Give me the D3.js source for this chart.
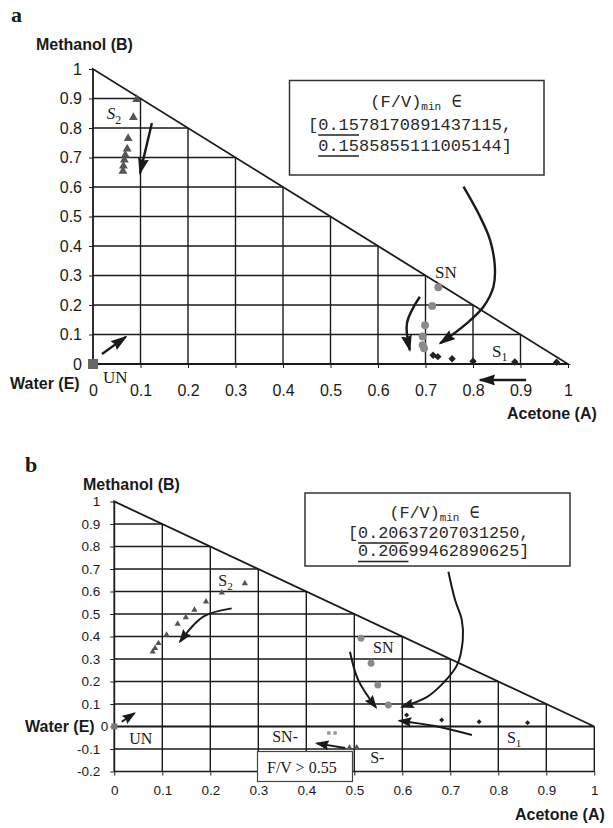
<!DOCTYPE html>
<html><head><meta charset="utf-8">
<script src="https://cdn.jsdelivr.net/npm/d3@7"></script>
<style>
body{margin:0;background:#fff}
svg{display:block}
</style></head><body>
<svg id="chart" width="613" height="828"></svg>
<script>
// ================= DATA =================
const xTicksA = [0,0.1,0.2,0.3,0.4,0.5,0.6,0.7,0.8,0.9,1];
const yTicksA = [0,0.1,0.2,0.3,0.4,0.5,0.6,0.7,0.8,0.9,1];
const xTicksB = [0,0.1,0.2,0.3,0.4,0.5,0.6,0.7,0.8,0.9,1];
const yTicksB = [-0.2,-0.1,0,0.1,0.2,0.3,0.4,0.5,0.6,0.7,0.8,0.9,1];

// panel a series  [acetone x, methanol y]
const s2A = [[0.092,0.897],[0.085,0.836],[0.074,0.765],[0.072,0.729],[0.068,0.708],[0.066,0.692],[0.064,0.671],[0.063,0.654]];
const snA = [[0.727,0.26],[0.714,0.197],[0.699,0.131],[0.694,0.093],[0.694,0.064],[0.697,0.053]];
const s1A = [[0.716,0.03],[0.726,0.025],[0.756,0.018],[0.80,0.009],[0.888,0.007],[0.976,0.006]];
const unA = [[0,0]];

// panel b series
const s2B = [[0.272,0.636],[0.224,0.595],[0.191,0.555],[0.167,0.518],[0.149,0.485],[0.132,0.456],[0.109,0.407],[0.092,0.37],[0.085,0.348],[0.08,0.332]];
const snB = [[0.514,0.392],[0.535,0.281],[0.549,0.184],[0.571,0.096]];
const s1B = [[0.609,0.051],[0.682,0.029],[0.76,0.021],[0.861,0.017]];
const unB = [[0,0]];
const snMinusB = [[0.447,-0.029],[0.46,-0.029]];
const sMinusB = [[0.49,-0.093],[0.505,-0.092]];

// annotation arrows (data coordinates)
const arrowsA = [
  [[0.124,0.817],[0.099,0.647]],
  [[0.019,0.034],[0.069,0.092]],
  [[0.688,0.228],[0.661,0.139],[0.667,0.047]],
  [[0.780,0.601],[0.815,0.499],[0.836,0.420],[0.846,0.330],[0.843,0.262],[0.822,0.194],[0.787,0.138],[0.731,0.070]],
  [[0.912,-0.054],[0.815,-0.054]]
];
const arrowsB = [
  [[0.2446,0.525],[0.1854,0.488],[0.137,0.377]],
  [[0.0154,0.0213],[0.0417,0.0587]],
  [[0.491,0.332],[0.508,0.207],[0.545,0.085]],
  [[0.696,0.688],[0.710,0.562],[0.724,0.473],[0.726,0.384],[0.714,0.273],[0.685,0.193],[0.651,0.131],[0.599,0.087]],
  [[0.745,-0.038],[0.668,0.002],[0.594,0.026]],
  [[0.481,-0.096],[0.422,-0.075]]
];

const boxLinesA = ["0.1578170891437115", "0.1585855111005144"];
const boxLinesB = ["0.20637207031250", "0.20699462890625"];

// ================= DRAW =================
const svg = d3.select("#chart");
const INK = "#1a1a1a";
const SANS = "'Liberation Sans', Arial, sans-serif";
const SERIF = "'Liberation Serif', 'Times New Roman', serif";
const MONO = "'Liberation Mono', 'DejaVu Sans Mono', monospace";

const defs = svg.append("defs");
function marker(id, w, h) {
  defs.append("marker").attr("id", id)
    .attr("viewBox", `0 0 ${w} ${h}`)
    .attr("markerWidth", w).attr("markerHeight", h)
    .attr("refX", w - 2).attr("refY", h / 2)
    .attr("markerUnits", "userSpaceOnUse")
    .attr("orient", "auto")
    .append("path").attr("d", `M0,0 L${w},${h/2} L0,${h} L2,${h/2} Z`).attr("fill", INK);
}
marker("arrA", 17, 11);
marker("arrB", 14, 10);

const fmt = d => String(+d.toFixed(1));

function panel(opt) {
  const x = d3.scaleLinear().domain([0, 1]).range(opt.xRange);
  const y = d3.scaleLinear().domain([opt.ymin, 1]).range(opt.yRange);
  const g = svg.append("g");
  const grid = [0.1,0.2,0.3,0.4,0.5,0.6,0.7,0.8,0.9];
  const gl = g.append("g").attr("stroke", INK).attr("stroke-width", opt.gridW).attr("fill", "none");
  grid.forEach(v => {
    gl.append("line").attr("x1", x(v)).attr("x2", x(v)).attr("y1", y(opt.ymin)).attr("y2", y(1 - v));
    gl.append("line").attr("x1", x(0)).attr("x2", x(1 - v)).attr("y1", y(v)).attr("y2", y(v));
  });
  if (opt.ymin < 0) {
    opt.yTicks.filter(v => v < 0).forEach(v => {
      gl.append("line").attr("x1", x(0)).attr("x2", x(1)).attr("y1", y(v)).attr("y2", y(v));
    });
    gl.append("line").attr("x1", x(1)).attr("x2", x(1)).attr("y1", y(opt.ymin)).attr("y2", y(0));
  }
  // frame
  gl.append("path").attr("stroke-width", opt.frameW)
    .attr("d", `M${x(0)},${y(opt.ymin)} L${x(0)},${y(1)} L${x(1)},${y(0)} L${x(0)},${y(0)}`);

  // axes
  const ya = g.append("g").attr("transform", `translate(${x(0)},0)`)
    .call(d3.axisLeft(y).tickValues(opt.yTicks).tickSize(opt.tickSize).tickPadding(opt.yPad).tickFormat(fmt));
  const xa = g.append("g").attr("transform", `translate(0,${y(opt.ymin)})`)
    .call(d3.axisBottom(x).tickValues(opt.xTicks).tickSize(opt.tickSize).tickPadding(opt.xPad).tickFormat(fmt));
  [ya, xa].forEach(a => {
    a.select(".domain").remove();
    a.selectAll("line").attr("stroke", INK);
    a.selectAll("text").attr("font-family", SANS).attr("font-size", opt.tickFont).attr("fill", INK);
  });
  if (opt.zeroShift) ya.selectAll(".tick").filter(d => d === 0).select("text").attr("x", -opt.tickSize - opt.yPad + opt.zeroShift);

  // axis titles
  const lab = (t, px, py) => g.append("text").attr("x", px).attr("y", py).text(t)
    .attr("font-family", SANS).attr("font-weight", "bold").attr("font-size", 16).attr("fill", INK);
  lab("Methanol (B)", opt.mLab[0], opt.mLab[1]);
  lab("Water (E)", opt.wLab[0], opt.wLab[1]);
  lab("Acetone (A)", opt.aLab[0], opt.aLab[1]);
  g.append("text").attr("x", opt.letter[0]).attr("y", opt.letter[1]).text(opt.letterText)
    .attr("font-family", SERIF).attr("font-weight", "bold").attr("font-size", 22).attr("fill", INK);

  // arrows
  const line = d3.line().x(d => x(d[0])).y(d => y(d[1])).curve(d3.curveCatmullRom.alpha(0.5));
  g.append("g").selectAll("path").data(opt.arrows).join("path")
    .attr("d", line).attr("fill", "none").attr("stroke", INK)
    .attr("stroke-width", opt.arrowW).attr("marker-end", `url(#${opt.marker})`);

  // series
  const sym = (data, type, size, fill, rot) => g.append("g").selectAll("path").data(data).join("path")
    .attr("d", d3.symbol(type, size))
    .attr("transform", d => `translate(${x(d[0])},${y(d[1])})${rot ? " rotate(45)" : ""}`)
    .attr("fill", fill);
  opt.series.forEach(s => sym(s.data, s.type, s.size, s.fill, s.rot));

  // text labels
  opt.labels.forEach(l => {
    const t = g.append("text").attr("x", x(l.x)).attr("y", y(l.y))
      .attr("font-family", SERIF).attr("font-size", l.size).attr("fill", INK);
    t.append("tspan").text(l.t).attr("font-style", l.italic ? "italic" : null);
    if (l.sub) t.append("tspan").text(l.sub).attr("font-size", l.size * 0.7).attr("dy", l.size * 0.25);
  });
  return {x, y, g};
}

function infoBox(b) {
  const g = svg.append("g");
  g.append("rect").attr("x", b.rect[0]).attr("y", b.rect[1]).attr("width", b.rect[2]).attr("height", b.rect[3])
    .attr("fill", "#fff").attr("stroke", "#333").attr("stroke-width", 1.5);
  const cw = b.font * 0.6;
  const t1 = g.append("text").attr("x", b.cx).attr("y", b.base[0]).attr("text-anchor", "middle")
    .attr("font-family", MONO).attr("font-size", b.font).attr("fill", "#2a2a2a");
  t1.append("tspan").text("(F/V)");
  t1.append("tspan").text("min").attr("font-size", b.font * 0.65).attr("dy", 3);
  t1.append("tspan").text(" \u2208").attr("dy", -3);
  g.append("text").attr("x", b.x0).attr("y", b.base[1]).text("[" + b.lines[0] + ",")
    .attr("font-family", MONO).attr("font-size", b.font).attr("fill", "#2a2a2a");
  g.append("text").attr("x", b.x0 + cw).attr("y", b.base[2]).text(b.lines[1] + "]")
    .attr("font-family", MONO).attr("font-size", b.font).attr("fill", "#2a2a2a");
  [1, 2].forEach(i => {
    g.append("line").attr("x1", b.x0 + cw).attr("x2", b.x0 + cw * (1 + b.under))
      .attr("y1", b.base[i] + 5.5).attr("y2", b.base[i] + 5.5).attr("stroke", "#222").attr("stroke-width", 1.3);
  });
}

// ---- panel a ----
panel({
  xRange: [93, 568], yRange: [364, 69], ymin: 0,
  xTicks: xTicksA, yTicks: yTicksA, tickSize: 4, yPad: 7, xPad: 17, tickFont: 16,
  gridW: 1.4, frameW: 1.8, arrowW: 2.4, marker: "arrA",
  mLab: [36, 50], wLab: [10, 389], aLab: [507, 419], letter: [11, 22], letterText: "a",
  arrows: arrowsA,
  series: [
    {data: s2A, type: d3.symbolTriangle, size: 34, fill: "#555"},
    {data: snA, type: d3.symbolCircle, size: 50, fill: "#8a8a8a"},
    {data: s1A, type: d3.symbolSquare, size: 28, fill: "#222", rot: true},
    {data: unA, type: d3.symbolSquare, size: 100, fill: "#666"}
  ],
  labels: [
    {t: "S", sub: "2", x: 0.029, y: 0.829, size: 17, italic: true},
    {t: "SN", x: 0.72, y: 0.292, size: 17},
    {t: "S", sub: "1", x: 0.84, y: 0.024, size: 17},
    {t: "UN", x: 0.021, y: -0.064, size: 17}
  ]
});
infoBox({rect: [289.5, 80.5, 254.5, 94.5], cx: 416, x0: 308, font: 17, base: [107, 129.5, 150.5],
  lines: boxLinesA, under: 4});

// ---- panel b ----
panel({
  xRange: [114.3, 594.3], yRange: [771.5, 501.5], ymin: -0.2,
  xTicks: xTicksB, yTicks: yTicksB, tickSize: 4, yPad: 10, xPad: 10, tickFont: 13.5,
  gridW: 1.4, frameW: 1.8, arrowW: 2, marker: "arrB",
  mLab: [83, 490], wLab: [25, 732], aLab: [515, 820], letter: [25, 472], letterText: "b", zeroShift: 8,
  arrows: arrowsB,
  series: [
    {data: s2B, type: d3.symbolTriangle, size: 17, fill: "#555"},
    {data: snB, type: d3.symbolCircle, size: 38, fill: "#8a8a8a"},
    {data: s1B, type: d3.symbolSquare, size: 13, fill: "#222", rot: true},
    {data: unB, type: d3.symbolSquare, size: 36, fill: "#777"},
    {data: snMinusB, type: d3.symbolSquare, size: 12, fill: "#999"},
    {data: sMinusB, type: d3.symbolTriangle, size: 14, fill: "#555"}
  ],
  labels: [
    {t: "S", sub: "2", x: 0.2165, y: 0.624, size: 16},
    {t: "SN", x: 0.539, y: 0.327, size: 16},
    {t: "S", sub: "1", x: 0.818, y: -0.073, size: 16},
    {t: "UN", x: 0.031, y: -0.078, size: 16},
    {t: "SN-", x: 0.329, y: -0.069, size: 16},
    {t: "S-", x: 0.533, y: -0.162, size: 16}
  ]
});
infoBox({rect: [305, 493, 265, 73], cx: 434.5, x0: 348, font: 16.8, base: [518, 537.5, 556],
  lines: boxLinesB, under: 5});

// F/V > 0.55 box
svg.append("rect").attr("x", 257.5).attr("y", 751.5).attr("width", 95).attr("height", 30)
  .attr("fill", "#fff").attr("stroke", "#444").attr("stroke-width", 1.2);
svg.append("text").attr("x", 267).attr("y", 773).text("F/V > 0.55")
  .attr("font-family", SERIF).attr("font-size", 16).attr("fill", INK);
</script>
</body></html>
